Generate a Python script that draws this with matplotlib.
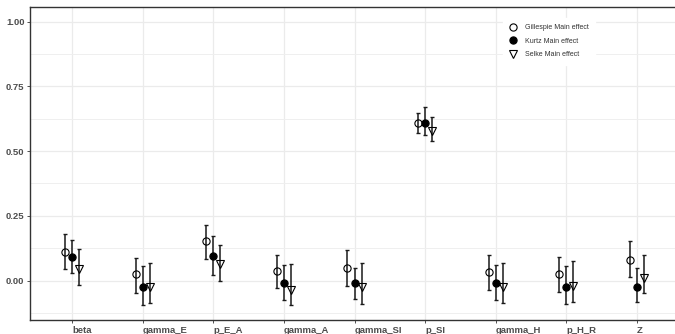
import matplotlib
matplotlib.use("Agg")
import matplotlib.pyplot as plt
import numpy as np
from matplotlib.lines import Line2D
from matplotlib.ticker import FixedLocator

plt.rcParams["font.family"] = ["Liberation Sans", "DejaVu Sans"]

# Parameters on the x axis
params = ["beta", "gamma_E", "p_E_A", "gamma_A", "gamma_SI", "p_SI", "gamma_H", "p_H_R", "Z"]

# Main effects with lower / upper interval bounds for each method
gillespie_est = [0.112, 0.025, 0.152, 0.037, 0.048, 0.607, 0.032, 0.025, 0.081]
gillespie_lo = [0.045, -0.049, 0.084, -0.028, -0.020, 0.568, -0.037, -0.045, 0.014]
gillespie_hi = [0.178, 0.086, 0.213, 0.100, 0.117, 0.648, 0.098, 0.093, 0.152]

kurtz_est = [0.091, -0.024, 0.096, -0.008, -0.010, 0.608, -0.010, -0.024, -0.023]
kurtz_lo = [0.028, -0.094, 0.022, -0.073, -0.071, 0.561, -0.076, -0.089, -0.083]
kurtz_hi = [0.156, 0.055, 0.171, 0.060, 0.049, 0.671, 0.060, 0.055, 0.049]

selke_est = [0.046, -0.026, 0.063, -0.036, -0.025, 0.577, -0.025, -0.020, 0.012]
selke_lo = [-0.017, -0.086, -0.002, -0.095, -0.089, 0.538, -0.086, -0.081, -0.047]
selke_hi = [0.122, 0.069, 0.139, 0.066, 0.069, 0.630, 0.067, 0.077, 0.098]

series = [
    ("Gillespie Main effect", gillespie_est, gillespie_lo, gillespie_hi, "o", "none", -0.1),
    ("Kurtz Main effect", kurtz_est, kurtz_lo, kurtz_hi, "o", "full", 0.0),
    ("Selke Main effect", selke_est, selke_lo, selke_hi, "v", "none", 0.1),
]

fig = plt.figure(figsize=(6.75, 3.34), dpi=100)
ax = fig.add_axes([30 / 675, 14 / 334, 649 / 675, 313 / 334])

x = np.arange(1, len(params) + 1)
handles = []
for label, est, lo, hi, marker, fill, off in series:
    est = np.array(est)
    yerr = np.vstack([est - np.array(lo), np.array(hi) - est])
    ax.errorbar(x + off, est, yerr=yerr, fmt="none", ecolor="#1a1a1a",
                elinewidth=1.1, capsize=1.1, capthick=1.0, zorder=3)
    ax.plot(x + off, est, linestyle="none", marker=marker, markersize=5.2,
            markeredgecolor="black", markerfacecolor="black" if fill == "full" else "none",
            markeredgewidth=0.8, zorder=4)
    handles.append(Line2D([], [], linestyle="none", marker=marker, markersize=5.2,
                          markeredgecolor="black",
                          markerfacecolor="black" if fill == "full" else "none",
                          markeredgewidth=0.8, label=label))

ax.set_xlim(0.4, 9.6)
ax.set_ylim(-0.152, 1.056)

ax.set_xticks(x)
ax.set_xticklabels(params, ha="left", fontsize=6.8, fontweight="bold", color="#4D4D4D")
ax.set_yticks([0.0, 0.25, 0.5, 0.75, 1.0])
ax.set_yticklabels(["0.00", "0.25", "0.50", "0.75", "1.00"], fontsize=6.8,
                   fontweight="bold", color="#4D4D4D")
ax.yaxis.set_minor_locator(FixedLocator([-0.125, 0.125, 0.375, 0.625, 0.875]))

ax.tick_params(axis="both", which="major", length=2.5, width=0.6, color="#333333", pad=1.5)
ax.tick_params(axis="y", which="minor", length=0)

ax.grid(True, which="major", color="#EBEBEB", linewidth=0.9, zorder=0)
ax.grid(True, which="minor", axis="y", color="#EFEFEF", linewidth=0.7, zorder=0)
ax.set_axisbelow(True)

for side in ["left", "bottom", "top", "right"]:
    ax.spines[side].set_color("#333333")
    ax.spines[side].set_linewidth(1.0)

leg = ax.legend(handles=handles, loc="upper left",
                bbox_to_anchor=(503 / 675, 1 - 18 / 334), bbox_transform=fig.transFigure,
                frameon=True, fancybox=False, framealpha=1.0, edgecolor="white",
                facecolor="white", fontsize=5, handlelength=1.0, handletextpad=1.2,
                labelspacing=0.95, borderpad=0.9, borderaxespad=0)
for t in leg.get_texts():
    t.set_color("#333333")

fig.savefig("out.png", dpi=100)
